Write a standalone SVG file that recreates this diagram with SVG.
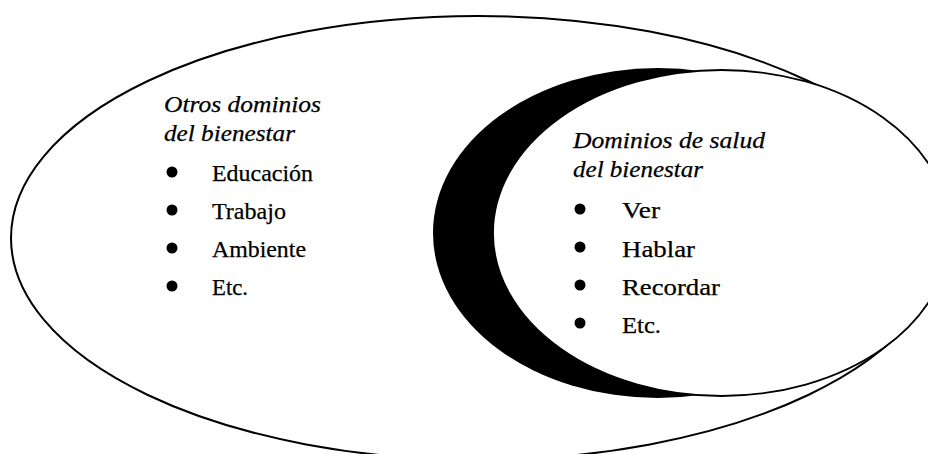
<svg xmlns="http://www.w3.org/2000/svg" width="928" height="454" viewBox="0 0 928 454">
  <style>
    .line { fill: #ffffff; stroke: #000000; }
    .crescent { fill: #000000; stroke: none; }
    .title { font-family: "Liberation Serif", "DejaVu Serif", serif; font-style: italic; font-size: 23px; fill: #000000; stroke: #000000; stroke-width: 0.25; }
    .item { font-family: "Liberation Serif", "DejaVu Serif", serif; font-size: 23px; fill: #000000; stroke: #000000; stroke-width: 0.25; }
    .bullet { fill: #000000; }
  </style>
  <rect x="0" y="0" width="928" height="454" fill="#ffffff"/>

  <g id="otros-dominios">
    <ellipse class="line" cx="478" cy="238" rx="467" ry="222" stroke-width="2"/>
    <text class="title" x="164" y="112" textLength="157" lengthAdjust="spacingAndGlyphs">Otros dominios</text>
    <text class="title" x="164" y="141" textLength="131" lengthAdjust="spacingAndGlyphs">del bienestar</text>
    <circle class="bullet" cx="172" cy="172" r="5.5"/>
    <circle class="bullet" cx="172" cy="210" r="5.5"/>
    <circle class="bullet" cx="172" cy="248" r="5.5"/>
    <circle class="bullet" cx="172" cy="286" r="5.5"/>
    <text class="item" x="212" y="181" textLength="101" lengthAdjust="spacingAndGlyphs">Educación</text>
    <text class="item" x="212" y="219" textLength="74" lengthAdjust="spacingAndGlyphs">Trabajo</text>
    <text class="item" x="212" y="257" textLength="94" lengthAdjust="spacingAndGlyphs">Ambiente</text>
    <text class="item" x="212" y="295" textLength="36" lengthAdjust="spacingAndGlyphs">Etc.</text>
  </g>

  <g id="dominios-salud">
    <ellipse class="crescent" cx="658" cy="233" rx="225" ry="165"/>
    <ellipse class="line" cx="721.6" cy="233" rx="228.6" ry="163" stroke-width="1.8"/>
    <text class="title" x="573" y="148" textLength="192" lengthAdjust="spacingAndGlyphs">Dominios de salud</text>
    <text class="title" x="573" y="177" textLength="130" lengthAdjust="spacingAndGlyphs">del bienestar</text>
    <circle class="bullet" cx="580" cy="209" r="5.5"/>
    <circle class="bullet" cx="580" cy="247" r="5.5"/>
    <circle class="bullet" cx="580" cy="285" r="5.5"/>
    <circle class="bullet" cx="580" cy="323" r="5.5"/>
    <text class="item" x="622" y="218" textLength="38" lengthAdjust="spacingAndGlyphs">Ver</text>
    <text class="item" x="622" y="257" textLength="73" lengthAdjust="spacingAndGlyphs">Hablar</text>
    <text class="item" x="622" y="295" textLength="98" lengthAdjust="spacingAndGlyphs">Recordar</text>
    <text class="item" x="622" y="333" textLength="39" lengthAdjust="spacingAndGlyphs">Etc.</text>
  </g>
</svg>
